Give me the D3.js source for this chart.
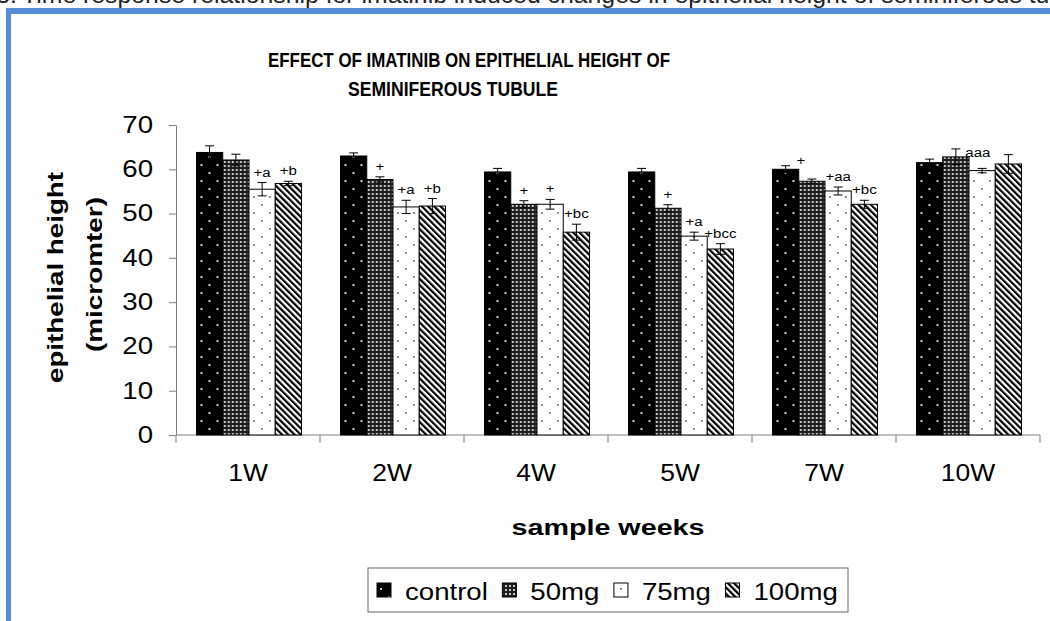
<!DOCTYPE html>
<html>
<head>
<meta charset="utf-8">
<script src="https://cdn.jsdelivr.net/npm/d3@7"></script>
<style>
  body { margin: 0; background: #fff; }
  svg { display: block; font-family: "Liberation Sans", Arial, sans-serif; }
</style>
</head>
<body>
<div id="chart"></div>
<script>
// Data
var categories   = ["1W", "2W", "4W", "5W", "7W", "10W"];
var series       = ["control", "50mg", "75mg", "100mg"];

var controlVals  = [63.8, 63.0, 59.4, 59.4, 60.0, 61.5];
var mg50Vals     = [62.1, 57.7, 52.1, 51.2, 57.3, 62.8];
var mg75Vals     = [55.5, 51.5, 52.1, 44.9, 55.1, 59.7];
var mg100Vals    = [56.8, 51.7, 45.8, 42.0, 52.1, 61.2];

var controlErr   = [1.5, 0.7, 0.8, 0.8, 0.8, 0.8];
var mg50Err      = [1.3, 0.6, 0.8, 0.8, 0.5, 1.8];
var mg75Err      = [1.5, 1.5, 1.1, 0.9, 0.9, 0.5];
var mg100Err     = [0.5, 1.7, 1.8, 1.2, 0.9, 2.1];

var controlLbl   = ["", "", "", "", "", ""];
var mg50Lbl      = ["", "+", "+", "+", "+", "aaa"];
var mg75Lbl      = ["+a", "+a", "+", "+a", "+aa", ""];
var mg100Lbl     = ["+b", "+b", "+bc", "+bcc", "+bc", ""];

var yTicks       = [0, 10, 20, 30, 40, 50, 60, 70];

var values = { "control": controlVals, "50mg": mg50Vals, "75mg": mg75Vals, "100mg": mg100Vals };
var errors = { "control": controlErr, "50mg": mg50Err, "75mg": mg75Err, "100mg": mg100Err };
var labels = { "control": controlLbl, "50mg": mg50Lbl, "75mg": mg75Lbl, "100mg": mg100Lbl };

var rows = [];
categories.forEach(function(c, i){
    series.forEach(function(s){
        rows.push({ cat: c, ser: s, v: values[s][i], e: errors[s][i], lbl: labels[s][i] });
    });
});

//  Size
var chart_width  = 1050;
var chart_height = 621;

var svg = d3.select("#chart")
    .append("svg")
    .attr("width", chart_width)
    .attr("height", chart_height);

// stretch a text to k times its natural length (the original font is wider)
function stretch(sel, k){
    sel.each(function(){
        var w = this.getComputedTextLength();
        this.__natural = w;
        d3.select(this).attr("textLength", w * k).attr("lengthAdjust", "spacingAndGlyphs");
    });
}
function fitTo(sel, w){
    sel.attr("textLength", w).attr("lengthAdjust", "spacingAndGlyphs");
}

// Patterns
var defs = svg.append("defs");

var p = defs.append("pattern").attr("id", "pat-control")
    .attr("patternUnits", "userSpaceOnUse").attr("width", 16).attr("height", 16);
p.append("rect").attr("width", 16).attr("height", 16).attr("fill", "#000");
p.append("rect").attr("x", 4).attr("y", 4).attr("width", 2).attr("height", 2).attr("fill", "#cfcfcf");
p.append("rect").attr("x", 12).attr("y", 12).attr("width", 2).attr("height", 2).attr("fill", "#cfcfcf");

p = defs.append("pattern").attr("id", "pat-50mg")
    .attr("patternUnits", "userSpaceOnUse").attr("width", 4).attr("height", 4);
p.append("rect").attr("width", 4).attr("height", 4).attr("fill", "#1e1e1e");
p.append("rect").attr("x", 1).attr("y", 1).attr("width", 2).attr("height", 2).attr("fill", "#c8c8c8");

p = defs.append("pattern").attr("id", "pat-75mg")
    .attr("patternUnits", "userSpaceOnUse").attr("width", 16).attr("height", 16);
p.append("rect").attr("width", 16).attr("height", 16).attr("fill", "#fff");
p.append("rect").attr("x", 4).attr("y", 4).attr("width", 2).attr("height", 2).attr("fill", "#8a8a8a");
p.append("rect").attr("x", 12).attr("y", 12).attr("width", 2).attr("height", 2).attr("fill", "#8a8a8a");

p = defs.append("pattern").attr("id", "pat-100mg")
    .attr("patternUnits", "userSpaceOnUse").attr("width", 4.4).attr("height", 10)
    .attr("patternTransform", "rotate(-45)");
p.append("rect").attr("width", 4.4).attr("height", 10).attr("fill", "#fff");
p.append("rect").attr("width", 2.2).attr("height", 10).attr("fill", "#000");

var fillFor = function(s){ return "url(#pat-" + s + ")"; };

// Page furniture: caption cut off at top and blue frame
var capHead = svg.append("text")
    .attr("x", 17).attr("y", 3)
    .attr("text-anchor", "end")
    .attr("fill", "#222")
    .text("Fig. 3:");
var cap = svg.append("text")
    .attr("x", 22).attr("y", 3)
    .attr("font-size", 19)
    .attr("fill", "#222")
    .text("Time response relationship for imatinib induced changes in epithelial height of seminiferous tu");
var capSize = 19 * 1028 / cap.node().getComputedTextLength();
cap.attr("font-size", capSize).text(cap.text() + "bule");
capHead.attr("font-size", capSize);

svg.append("rect").attr("x", 6).attr("y", 8).attr("width", chart_width - 6).attr("height", 6).attr("fill", "#558ed5");
svg.append("rect").attr("x", 6).attr("y", 8).attr("width", 5).attr("height", chart_height - 8).attr("fill", "#558ed5");

// Scales
var x0 = d3.scaleBand().domain(categories).range([176, 1040]);
var x1 = d3.scaleBand().domain(series).range([20.5, 125.5]);
var y  = d3.scaleLinear().domain([0, 70]).range([435, 125]);

// Title
var t1 = svg.append("text").attr("x", 469).attr("y", 66.5)
    .attr("text-anchor", "middle").attr("font-size", 21).attr("font-weight", "bold")
    .text("EFFECT OF IMATINIB ON EPITHELIAL HEIGHT OF");
fitTo(t1, 402);
var t2 = svg.append("text").attr("x", 453).attr("y", 96)
    .attr("text-anchor", "middle").attr("font-size", 21).attr("font-weight", "bold")
    .text("SEMINIFEROUS TUBULE");
fitTo(t2, 210);

// Y axis
var yAxis = svg.append("g")
    .attr("transform", "translate(176,0)")
    .call(d3.axisLeft(y).tickValues(yTicks).tickSize(7).tickSizeOuter(0).tickPadding(16));
yAxis.select(".domain").attr("stroke", "#808080");
yAxis.selectAll(".tick line").attr("stroke", "#808080");
yAxis.selectAll(".tick text")
    .attr("font-size", 23).attr("font-family", null).attr("fill", "#000")
    .call(stretch, 1.2);

// X axis
var xAxis = svg.append("g")
    .attr("transform", "translate(0,435)")
    .call(d3.axisBottom(x0).tickSize(0).tickPadding(30));
xAxis.select(".domain").remove();
xAxis.selectAll(".tick text")
    .attr("font-size", 23).attr("font-family", null).attr("fill", "#000")
    .call(stretch, 1.15);

svg.append("line")
    .attr("x1", x0.range()[0]).attr("x2", x0.range()[1])
    .attr("y1", y(0)).attr("y2", y(0))
    .attr("stroke", "#808080");
svg.append("g").selectAll("line")
    .data(categories.map(function(c){ return x0(c); }).concat([x0.range()[1]]))
    .enter().append("line")
    .attr("x1", function(d){ return d; }).attr("x2", function(d){ return d; })
    .attr("y1", y(0)).attr("y2", y(0) + 8)
    .attr("stroke", "#808080");

// Axis titles
var xt = svg.append("text").attr("x", 608).attr("y", 535)
    .attr("text-anchor", "middle").attr("font-size", 22).attr("font-weight", "bold")
    .text("sample weeks");
fitTo(xt, 193);

var yt1 = svg.append("text")
    .attr("transform", "translate(63,277.5) rotate(-90)")
    .attr("text-anchor", "middle").attr("font-size", 22).attr("font-weight", "bold")
    .text("epithelial height");
fitTo(yt1, 211);
var yt2 = svg.append("text")
    .attr("transform", "translate(102,274.5) rotate(-90)")
    .attr("text-anchor", "middle").attr("font-size", 22).attr("font-weight", "bold")
    .text("(micromter)");
fitTo(yt2, 155);

// Bars
var groups = svg.append("g").selectAll("g")
    .data(rows)
    .enter().append("g")
    .attr("transform", function(d){ return "translate(" + (x0(d.cat) + x1(d.ser)) + ",0)"; });

groups.append("rect")
    .attr("x", 0)
    .attr("y", function(d){ return y(d.v); })
    .attr("width", x1.bandwidth())
    .attr("height", function(d){ return y(0) - y(d.v); })
    .attr("fill", function(d){ return fillFor(d.ser); })
    .attr("stroke", "#000")
    .attr("stroke-width", 1);

// Error bars
var bw = x1.bandwidth();
groups.append("line")
    .attr("x1", bw / 2).attr("x2", bw / 2)
    .attr("y1", function(d){ return y(d.v + d.e); })
    .attr("y2", function(d){ return y(d.v - d.e); })
    .attr("stroke", "#000");
groups.append("line")
    .attr("x1", bw / 2 - 4.5).attr("x2", bw / 2 + 4.5)
    .attr("y1", function(d){ return y(d.v + d.e); })
    .attr("y2", function(d){ return y(d.v + d.e); })
    .attr("stroke", "#000");
groups.append("line")
    .attr("x1", bw / 2 - 4.5).attr("x2", bw / 2 + 4.5)
    .attr("y1", function(d){ return y(d.v - d.e); })
    .attr("y2", function(d){ return y(d.v - d.e); })
    .attr("stroke", "#000");

// Significance labels (two of them sit off-centre in the original)
var nudge = { "7W|50mg": [-11, -8], "10W|50mg": [22, 14] };
groups.filter(function(d){ return d.lbl !== ""; })
    .append("text")
    .attr("x", function(d){ var n = nudge[d.cat + "|" + d.ser]; return bw / 2 + (n ? n[0] : 0); })
    .attr("y", function(d){ var n = nudge[d.cat + "|" + d.ser]; return y(d.v + d.e) - 6 + (n ? n[1] : 0); })
    .attr("text-anchor", "middle")
    .attr("font-size", 12.5)
    .text(function(d){ return d.lbl; })
    .call(stretch, 1.2);

// Legend
var legend = svg.append("g");
legend.append("rect")
    .attr("x", 368).attr("y", 568).attr("width", 480).attr("height", 44)
    .attr("fill", "#fff").attr("stroke", "#666");

var lx = 377;
series.forEach(function(s){
    legend.append("rect")
        .attr("x", lx).attr("y", 583).attr("width", 14).attr("height", 14)
        .attr("fill", fillFor(s)).attr("stroke", "#000");
    var lt = legend.append("text")
        .attr("x", lx + 28).attr("y", 600)
        .attr("font-size", 23)
        .text(s)
        .call(stretch, 1.2);
    lx += 28 + lt.node().__natural * 1.2 + 14.5;
});
</script>
</body>
</html>
